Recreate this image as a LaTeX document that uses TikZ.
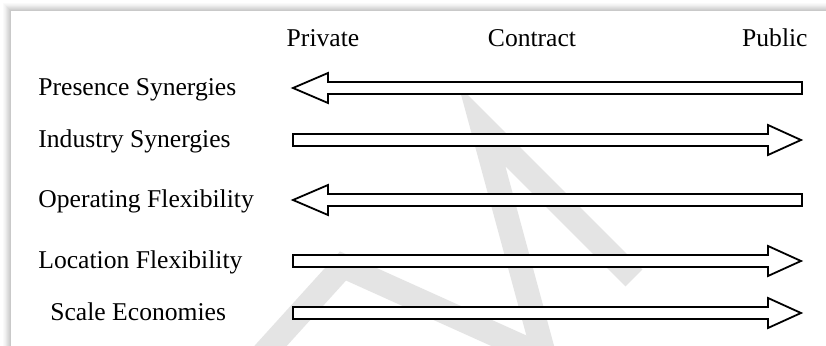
\documentclass[tikz,border=0pt]{standalone}
\usepackage{fontspec}
\setmainfont{Liberation Serif}
\usepackage{tikz}
\definecolor{wmGray}{RGB}{228,228,228}

\begin{document}
\begin{tikzpicture}[
  x=0.5pt, y=-0.5pt,
  font=\fontsize{12.8}{15}\selectfont,
  hd/.style  ={anchor=base, inner sep=0pt},
  lbl/.style ={anchor=base west, inner sep=0pt},
  blk/.style ={draw=black, line width=0.9pt, fill=white, line join=miter},
  wm/.style  ={draw=wmGray, line width=12pt},
]
\clip (0,0) rectangle (826,346);
\useasboundingbox (0,0) rectangle (826,346);

% ============ FRAME WITH SOFT SHADOW ============
\foreach \d/\c in {8/2,7/4,6/6,5/9,4/12,3/15,2/18,1/21}
  \fill[black!\c] (11-\d,11-\d) rectangle (840,360);
\fill[white] (11,11) rectangle (840,360);

% ============ WATERMARK ============
\draw[wm] (256,362) -- (343,266) -- (556,362);
\draw[wm] (546,362) -- (482,126) -- (634,278);

% ============ COLUMN HEADS ============
\node[hd] (hdpriv)  at (323,47) {Private};
\node[hd] (hdcontr) at (532,47) {Contract};
\node[hd, anchor=base east] (hdpub) at (808,47) {Public};

% ============ ROW LABELS ============
\node[lbl] (lbpres)  at (38,96)  {Presence Synergies};
\node[lbl] (lbind)   at (38,148) {Industry Synergies};
\node[lbl] (lbop)    at (38,208) {Operating Flexibility};
\node[lbl] (lbloc)   at (38,269) {Location Flexibility};
\node[lbl] (lbscale) at (50,321) {Scale Economies};

% ============ BLOCK ARROWS ============
% towards private
\draw[blk, shift={(0,88)}]  (802,-6) -- (328,-6) -- (328,-15) -- (293,0) -- (328,15) -- (328,6) -- (802,6) -- cycle;
\draw[blk, shift={(0,200)}] (802,-6) -- (328,-6) -- (328,-15) -- (293,0) -- (328,15) -- (328,6) -- (802,6) -- cycle;
% towards public
\draw[blk, shift={(0,140)}] (293,-6) -- (768,-6) -- (768,-15) -- (801,0) -- (768,15) -- (768,6) -- (293,6) -- cycle;
\draw[blk, shift={(0,261)}] (293,-6) -- (768,-6) -- (768,-15) -- (801,0) -- (768,15) -- (768,6) -- (293,6) -- cycle;
\draw[blk, shift={(0,313)}] (293,-6) -- (768,-6) -- (768,-15) -- (801,0) -- (768,15) -- (768,6) -- (293,6) -- cycle;

\end{tikzpicture}
\end{document}
